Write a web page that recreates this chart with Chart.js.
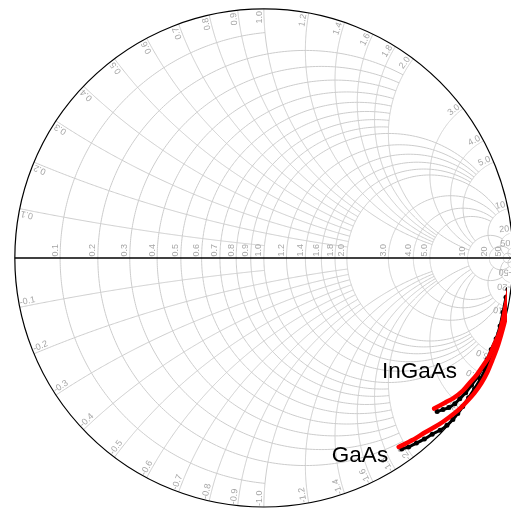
<!DOCTYPE html>
<html>
<head>
<meta charset="utf-8">
<script src="https://cdn.jsdelivr.net/npm/chart.js@4.4.1/dist/chart.umd.min.js"></script>
<style>
  html, body { margin: 0; padding: 0; background: #ffffff; overflow: hidden; }
  canvas { display: block; }
</style>
</head>
<body>
<canvas id="smith" width="511" height="514"></canvas>
<script>
// Smith chart grid: circle values (used for both resistance circles and reactance arcs)
// and the value of the crossing family at which each circle/arc stops.
const gridValues = [0.1, 0.2, 0.3, 0.4, 0.5, 0.6, 0.7, 0.8, 0.9, 1, 1.2, 1.4, 1.6, 1.8, 2, 3, 4, 5, 10, 20, 50];
const gridLimits = [1, 2, 2, 2, 2, 2, 2, 2, 2, 5, 5, 5, 5, 5, 10, 10, 10, 10, 20, 50, Infinity];
const gridLabels = ['0.1', '0.2', '0.3', '0.4', '0.5', '0.6', '0.7', '0.8', '0.9', '1.0',
                    '1.2', '1.4', '1.6', '1.8', '2.0', '3.0', '4.0', '5.0', '10', '20', '50'];

// Reflection coefficient, real and imaginary parts
const gaasFitRe = [0.5415, 0.5968, 0.6482, 0.7036, 0.7431, 0.7826, 0.8142, 0.8458, 0.8735, 0.8972, 0.9170, 0.9368, 0.9526, 0.9684, 0.9802, 0.9881, 0.9960];
const gaasFitIm = [-0.7589, -0.7312, -0.6996, -0.6680, -0.6403, -0.6087, -0.5771, -0.5415, -0.5020, -0.4585, -0.4111, -0.3597, -0.3083, -0.2490, -0.1858, -0.1265, -0.0553];

const ingaasFitRe = [0.6838, 0.7273, 0.7628, 0.7984, 0.8261, 0.8538, 0.8814, 0.9051, 0.9249, 0.9447, 0.9605, 0.9723, 0.9842, 0.9921];
const ingaasFitIm = [-0.6047, -0.5810, -0.5613, -0.5336, -0.5020, -0.4704, -0.4308, -0.3953, -0.3478, -0.3043, -0.2451, -0.1858, -0.1265, -0.0672];

const gaasMeasRe = [0.5534, 0.5810, 0.6126, 0.6443, 0.6759, 0.7075, 0.7352, 0.7589, 0.7787, 0.7984, 0.8221, 0.8458, 0.8696, 0.8893, 0.9091, 0.9289, 0.9447, 0.9605, 0.9723, 0.9802];
const gaasMeasIm = [-0.7668, -0.7589, -0.7431, -0.7273, -0.7075, -0.6917, -0.6719, -0.6482, -0.6245, -0.5968, -0.5613, -0.5257, -0.4862, -0.4466, -0.3992, -0.3518, -0.3004, -0.2451, -0.1858, -0.1265];

const ingaasMeasRe = [0.6957, 0.7194, 0.7431, 0.7668, 0.7866, 0.8103, 0.8340, 0.8577, 0.8775, 0.8972, 0.9130, 0.9328, 0.9486, 0.9605, 0.9723];
const ingaasMeasIm = [-0.6166, -0.6087, -0.6008, -0.5850, -0.5652, -0.5415, -0.5099, -0.4783, -0.4427, -0.4071, -0.3676, -0.3241, -0.2727, -0.2174, -0.1581];

const toPoints = (re, im) => re.map((u, i) => ({ x: u, y: im[i] }));

// normalized impedance r + jx  ->  reflection coefficient
function gamma(r, x) {
  const d = (r + 1) * (r + 1) + x * x;
  return [(r * r - 1 + x * x) / d, (2 * x) / d];
}

const smithGrid = {
  id: 'smithGrid',
  beforeDatasetsDraw(chart) {
    const ctx = chart.ctx;
    const xs = chart.scales.x, ys = chart.scales.y;
    const px = u => xs.getPixelForValue(u);
    const py = v => ys.getPixelForValue(v);
    const N = 300;

    ctx.save();
    ctx.lineWidth = 1;
    ctx.strokeStyle = '#cccccc';
    gridValues.forEach((val, i) => {
      const lim = gridLimits[i];
      const aMax = Number.isFinite(lim) ? Math.atan(lim) : Math.PI / 2 - 1e-5;
      // constant-resistance circle, reactance from -lim to +lim
      ctx.beginPath();
      for (let k = 0; k <= N; k++) {
        const t = -aMax + (2 * aMax * k) / N;
        const g = gamma(val, Math.tan(t));
        if (k === 0) ctx.moveTo(px(g[0]), py(g[1])); else ctx.lineTo(px(g[0]), py(g[1]));
      }
      ctx.stroke();
      // constant-reactance arcs (+/-), resistance from 0 to lim
      [1, -1].forEach(s => {
        ctx.beginPath();
        for (let k = 0; k <= N; k++) {
          const t = (aMax * k) / N;
          const g = gamma(Math.tan(t), s * val);
          if (k === 0) ctx.moveTo(px(g[0]), py(g[1])); else ctx.lineTo(px(g[0]), py(g[1]));
        }
        ctx.stroke();
      });
    });

    // outer |Gamma| = 1 circle and real axis
    ctx.strokeStyle = '#000000';
    ctx.lineWidth = 1.2;
    ctx.beginPath();
    ctx.arc(px(0), py(0), px(1) - px(0), 0, Math.PI * 2);
    ctx.stroke();
    ctx.lineWidth = 1.6;
    ctx.beginPath();
    ctx.moveTo(px(-1), py(0));
    ctx.lineTo(px(1), py(0));
    ctx.stroke();

    // labels
    ctx.fillStyle = '#a6a6a6';
    ctx.font = '9px "Liberation Sans", Arial, sans-serif';
    ctx.textBaseline = 'bottom';
    gridValues.forEach((val, i) => {
      const txt = gridLabels[i];
      // resistance label along the real axis
      const g0 = gamma(val, 0);
      ctx.save();
      ctx.translate(px(g0[0]) - 0.5, py(0) - 1.5);
      ctx.rotate(-Math.PI / 2);
      ctx.textAlign = 'left';
      ctx.fillText(txt, 0, 0);
      ctx.restore();
      // reactance labels on the rim
      [1, -1].forEach(s => {
        const g = gamma(0, s * val);
        const th = Math.atan2(g[1], g[0]);
        ctx.save();
        ctx.translate(px(g[0]), py(g[1]));
        if (s > 0) {
          ctx.rotate(-th);
          ctx.textAlign = 'right';
          ctx.fillText(txt, -2, 0);
        } else {
          ctx.rotate(-(th + Math.PI));
          ctx.textAlign = 'left';
          ctx.fillText('-' + txt, 1, 0);
        }
        ctx.restore();
      });
    });
    ctx.restore();
  },
  afterDatasetsDraw(chart) {
    const ctx = chart.ctx;
    const xs = chart.scales.x, ys = chart.scales.y;
    ctx.save();
    ctx.fillStyle = '#000000';
    ctx.font = '22.5px "Liberation Sans", Arial, sans-serif';
    ctx.textAlign = 'left';
    ctx.textBaseline = 'alphabetic';
    ctx.fillText('InGaAs', xs.getPixelForValue(0.474), ys.getPixelForValue(-0.482));
    ctx.fillText('GaAs', xs.getPixelForValue(0.273), ys.getPixelForValue(-0.818));
    ctx.restore();
  }
};

const measStyle = {
  showLine: true,
  borderColor: '#000000',
  backgroundColor: '#000000',
  borderWidth: 3,
  pointRadius: 2.5,
  pointBorderWidth: 0,
  tension: 0.2,
  order: 2
};
const fitStyle = {
  showLine: true,
  borderColor: '#ff0000',
  borderWidth: 4.5,
  pointRadius: 0,
  tension: 0.3,
  borderCapStyle: 'round',
  borderJoinStyle: 'round',
  order: 1
};

new Chart(document.getElementById('smith'), {
  type: 'scatter',
  data: {
    datasets: [
      Object.assign({ label: 'GaAs measured', data: toPoints(gaasMeasRe, gaasMeasIm) }, measStyle),
      Object.assign({ label: 'InGaAs measured', data: toPoints(ingaasMeasRe, ingaasMeasIm) }, measStyle),
      Object.assign({ label: 'GaAs model', data: toPoints(gaasFitRe, gaasFitIm) }, fitStyle),
      Object.assign({ label: 'InGaAs model', data: toPoints(ingaasFitRe, ingaasFitIm) }, fitStyle)
    ]
  },
  options: {
    responsive: false,
    animation: false,
    devicePixelRatio: 1,
    layout: { padding: 0 },
    plugins: { legend: { display: false }, tooltip: { enabled: false } },
    scales: {
      x: { type: 'linear', display: false, min: -1.0435, max: 0.9763 },
      y: { type: 'linear', display: false, min: -1.0119, max: 1.0198 }
    }
  },
  plugins: [smithGrid]
});
</script>
</body>
</html>
